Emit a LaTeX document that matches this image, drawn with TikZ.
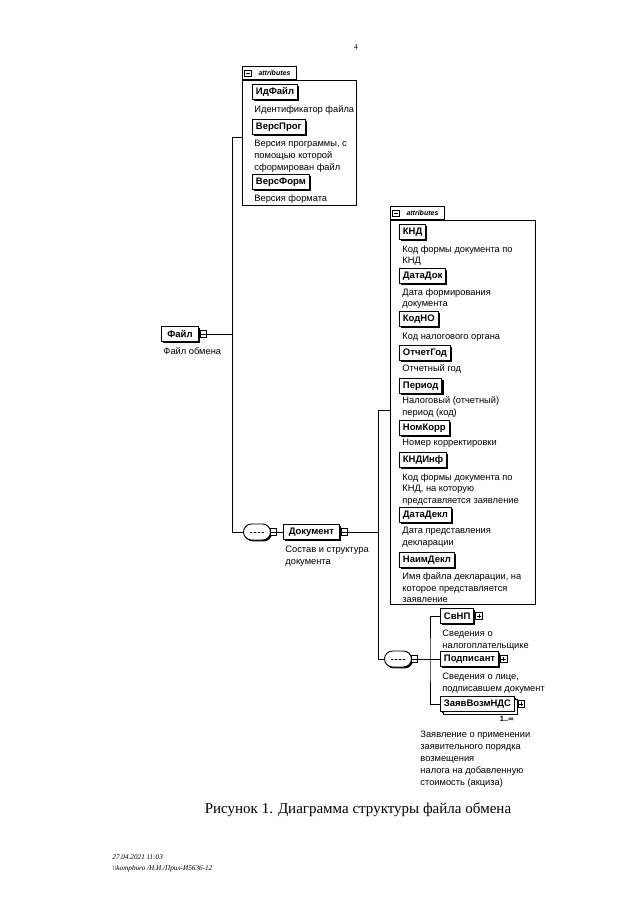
\documentclass[tikz,border=0pt]{standalone}
\usepackage{fontspec}
\setmainfont{Liberation Serif}
\newfontfamily\arialf{Liberation Sans}
\usetikzlibrary{shapes.misc,shadows}

\begin{document}
\begin{tikzpicture}[x=1pt, y=-1pt, line width=0.9pt]
        \tikzstyle{element} = [draw=black, fill=white, anchor=west, inner xsep=3.5pt, inner ysep=0pt, minimum height=15,
                font=\arialf\fontsize{9.5}{10}\selectfont\bfseries,
                drop shadow={shadow xshift=1.6pt, shadow yshift=-1.6pt, opacity=1, fill=black}]
        \tikzstyle{multi} = [element, copy shadow={shadow xshift=2.5pt, shadow yshift=-2.5pt}]
        \tikzstyle{descr} = [anchor=north west, align=left, inner sep=0pt, font=\arialf\fontsize{9.3}{11.8}\selectfont]
        \tikzstyle{group} = [draw=black, anchor=north west, inner sep=0pt]
        \tikzstyle{grouptab} = [draw=black, anchor=south west, inner xsep=2pt, inner ysep=0pt, minimum height=13, minimum width=54,
                font=\arialf\fontsize{7}{7}\selectfont\bfseries\itshape]
        \tikzstyle{minusbox} = [draw=black, fill=white, minimum size=6.5, inner sep=0pt, line width=0.6pt,
                path picture={\draw ([xshift=-2.2pt]path picture bounding box.center) -- ([xshift=2.2pt]path picture bounding box.center);}]
        \tikzstyle{plusbox} = [draw=black, fill=white, minimum size=6.5, inner sep=0pt, line width=0.6pt,
                path picture={\draw ([xshift=-2.2pt]path picture bounding box.center) -- ([xshift=2.2pt]path picture bounding box.center)
                        ([yshift=-2.2pt]path picture bounding box.center) -- ([yshift=2.2pt]path picture bounding box.center);}]
        \tikzstyle{sequence} = [rounded rectangle, draw=black, fill=white, minimum width=27, minimum height=16, inner sep=0pt,
                drop shadow={shadow xshift=1.4pt, shadow yshift=-1.4pt, opacity=1, fill=black},
                path picture={\draw[line width=0.6pt] ([xshift=-7pt]path picture bounding box.center) -- ([xshift=7pt]path picture bounding box.center);
                        \foreach \d in {-4,0,4} \fill ([xshift=\d pt]path picture bounding box.center) circle (1pt);}]
        \useasboundingbox (0,0) rectangle (640,905);

        \node[font=\fontsize{7.5}{8}\selectfont] (pgno) at (356,47) {4};

        % root element
        \node[element, minimum width=37] (file) at (161,334) {Файл};
        \node[minusbox, anchor=west] (fileX) at ([xshift=1pt]file.east) {};
        \node[descr] (fileD) at (163,347) {Файл обмена};

        % attributes of the file
        \node[group, minimum width=114, minimum height=125] (grpA) at (242,80) {};
        \node[grouptab] (grpAT) at (grpA.north west) {\hspace*{10pt}attributes};
        \node[minusbox] (grpAX) at (248,73.5) {};
        \node[element] (idf) at (252,92) {ИдФайл};
        \node[descr] (idfD) at (254,105) {Идентификатор файла};
        \node[element] (vprog) at (252,127) {ВерсПрог};
        \node[descr] (vprogD) at (254,140) {Версия программы, с\\помощью которой\\сформирован файл};
        \node[element] (vform) at (252,182) {ВерсФорм};
        \node[descr] (vformD) at (254,194) {Версия формата};

        % Document
        \node[sequence] (seqA) at (257,532) {};
        \node[minusbox, anchor=west] (seqAX) at ([xshift=-1pt]seqA.east) {};
        \node[element, minimum width=56] (docu) at (283,532) {Документ};
        \node[minusbox, anchor=west] (docuX) at ([xshift=1pt]docu.east) {};
        \node[descr] (docuD) at (285,546) {Состав и структура\\документа};

        % attributes of the document
        \node[group, minimum width=145, minimum height=384] (grpB) at (390,220) {};
        \node[grouptab] (grpBT) at (grpB.north west) {\hspace*{10pt}attributes};
        \node[minusbox] (grpBX) at (396,213.5) {};
        \node[element] (knd) at (399,232) {КНД};
        \node[descr] (kndD) at (402,245) {Код формы документа по\\КНД};
        \node[element] (datadok) at (399,276) {ДатаДок};
        \node[descr] (datadokD) at (402,288) {Дата формирования\\документа};
        \node[element] (kodno) at (399,319) {КодНО};
        \node[descr] (kodnoD) at (402,333) {Код налогового органа};
        \node[element] (otchgod) at (399,353) {ОтчетГод};
        \node[descr] (otchgodD) at (402,364) {Отчетный год};
        \node[element] (period) at (399,386) {Период};
        \node[descr] (periodD) at (402,396) {Налоговый (отчетный)\\период (код)};
        \node[element] (nomkorr) at (399,428) {НомКорр};
        \node[descr] (nomkorrD) at (402,439) {Номер корректировки};
        \node[element] (kndinf) at (399,460) {КНДИнф};
        \node[descr] (kndinfD) at (402,473) {Код формы документа по\\КНД, на которую\\представляется заявление};
        \node[element] (datadekl) at (399,515) {ДатаДекл};
        \node[descr] (datadeklD) at (402,527) {Дата представления\\декларации};
        \node[element] (naimdekl) at (399,560) {НаимДекл};
        \node[descr] (naimdeklD) at (402,572) {Имя файла декларации, на\\которое представляется\\заявление};

        % child elements of the document
        \node[sequence] (seqB) at (398,659) {};
        \node[minusbox, anchor=west] (seqBX) at ([xshift=-1pt]seqB.east) {};
        \node[element] (svnp) at (440,616) {СвНП};
        \node[plusbox, anchor=west] (svnpX) at ([xshift=1pt]svnp.east) {};
        \node[descr] (svnpD) at (442,630) {Сведения о\\налогоплательщике};
        \node[element] (podp) at (440,659) {Подписант};
        \node[plusbox, anchor=west] (podpX) at ([xshift=1pt]podp.east) {};
        \node[descr] (podpD) at (442,673) {Сведения о лице,\\подписавшем документ};
        \node[multi] (zayav) at (440,704) {ЗаявВозмНДС};
        \node[plusbox, anchor=west] (zayavX) at ([xshift=2.5pt]zayav.east) {};
        \node[anchor=north east, inner sep=1pt, font=\arialf\fontsize{7.5}{8}\selectfont\bfseries] (zayavM) at ([yshift=-3pt]zayav.south east) {1..∞};
        \node[descr] (zayavD) at (420,731) {Заявление о применении\\заявительного порядка\\возмещения\\налога на добавленную\\стоимость (акциза)};

        % connectors
        \coordinate (busA) at (232,137);
        \coordinate (busB) at (378,410);
        \coordinate (busC) at (430,659);
        \draw (fileX.east) -- (fileX.east -| busA);
        \draw (busA -| grpA.west) -- (busA) |- (seqA.west);
        \draw (seqAX.east) -- (docu.west);
        \draw (docuX.east) -- (docuX.east -| busB);
        \draw (busB -| grpB.west) -- (busB) |- (seqB.west);
        \draw (seqBX.east) -- (podp.west);
        \draw (svnp.west) -| (busC) |- (zayav.west);

        % caption and footer
        \node[font=\fontsize{15}{17}\selectfont] (caption) at (358,810) {Рисунок 1. Диаграмма структуры файла обмена};
        \node[anchor=west, align=left, inner sep=0pt, font=\fontsize{7.2}{11}\selectfont\itshape] (footer) at (112,863)
                {27.04.2021 11:03\\\textbackslash\textbackslash kompburo /Н.И./Прил-И5636-12};
\end{tikzpicture}
\end{document}
